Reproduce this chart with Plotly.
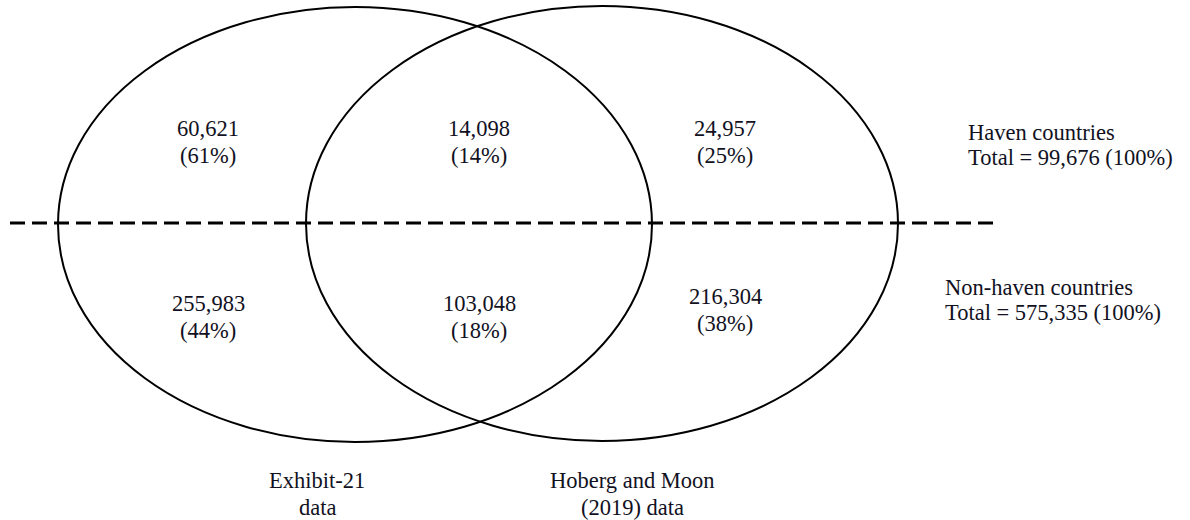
import plotly.graph_objects as go

# Data
region_counts = ["60,621", "14,098", "24,957", "255,983", "103,048", "216,304"]
region_pcts = ["(61%)", "(14%)", "(25%)", "(44%)", "(18%)", "(38%)"]
group_titles = ["Haven countries", "Non-haven countries"]
group_totals = ["Total = 99,676 (100%)", "Total = 575,335 (100%)"]
set_labels_line1 = ["Exhibit-21", "Hoberg and Moon"]
set_labels_line2 = ["data", "(2019) data"]

# Layout positions (pixel space, y downward): (x, y of first line)
region_xy = [(208, 128), (479, 128), (725, 128), (208, 303), (479, 303), (725, 296)]
group_xy = [(967, 132), (944, 287)]
set_xy = [(317, 480), (632, 480)]
LINE_GAP = 27
ellipses = [(58, 7, 652, 442), (306, 6, 898, 441)]

FONT = "Liberation Serif, Times New Roman, serif"
TXT = "#111122"
FS = 22.5

fig = go.Figure()
fig.add_trace(go.Scatter(x=[0, 1190], y=[0, 520], mode="markers",
                         marker=dict(opacity=0), hoverinfo="skip", showlegend=False))

shapes = []
for x0, y0, x1, y1 in ellipses:
    shapes.append(dict(type="circle", xref="x", yref="y", x0=x0, y0=y0, x1=x1, y1=y1,
                       line=dict(color="black", width=2)))
shapes.append(dict(type="line", xref="x", yref="y", x0=10, x1=994, y0=223, y1=223,
                   line=dict(color="black", width=3, dash="15px,7px")))

annotations = []


def add_text(x, y, text, anchor):
    annotations.append(dict(x=x, y=y, xref="x", yref="y", text=text,
                            showarrow=False, xanchor=anchor, yanchor="middle",
                            align=anchor if anchor != "center" else "center",
                            borderpad=0,
                            font=dict(family=FONT, size=FS, color=TXT)))


for (x, y), c, p in zip(region_xy, region_counts, region_pcts):
    add_text(x, y, c, "center")
    add_text(x, y + LINE_GAP, p, "center")
for (x, y), t, tot in zip(group_xy, group_titles, group_totals):
    add_text(x, y, t, "left")
    add_text(x, y + 25, tot, "left")
for (x, y), a, b in zip(set_xy, set_labels_line1, set_labels_line2):
    add_text(x, y, a, "center")
    add_text(x, y + LINE_GAP, b, "center")

fig.update_layout(
    width=1190, height=520,
    margin=dict(l=0, r=0, t=0, b=0),
    paper_bgcolor="white", plot_bgcolor="white",
    xaxis=dict(range=[0, 1190], visible=False, fixedrange=True),
    yaxis=dict(range=[520, 0], visible=False, fixedrange=True),
    shapes=shapes, annotations=annotations, showlegend=False,
)

fig.write_html("out.html", config={"displayModeBar": False},
               post_script="document.body.style.margin='0';")
